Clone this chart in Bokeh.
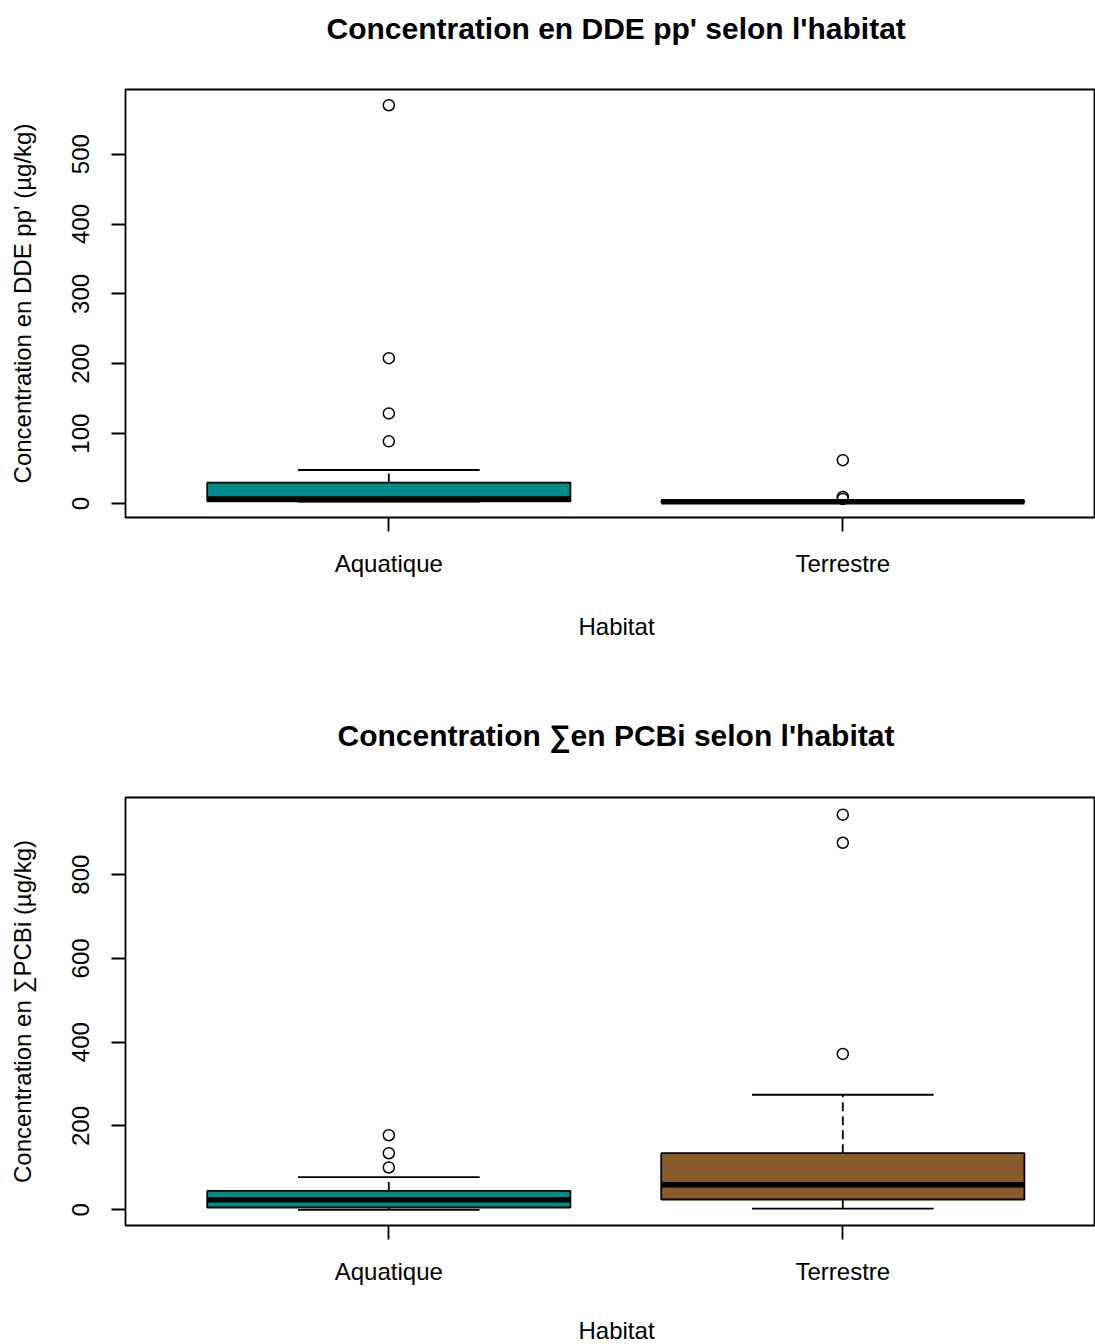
from bokeh.plotting import figure
from bokeh.layouts import column
from bokeh.models import FixedTicker, Range1d, Title
from bokeh.embed import file_html
from bokeh.resources import INLINE

FONT = "Liberation Sans"

categories = ["Aquatique", "Terrestre"]
colors = ["#008B8B", "#8B5A2B"]

# DDE pp' (ug/kg) boxplot statistics per habitat
dde_q1 = [3.0, 2.2]
dde_median = [6.5, 2.6]
dde_q3 = [30.0, 3.2]
dde_lower = [2.6, 1.2]
dde_upper = [48.0, 4.5]
dde_outliers = [[89, 129, 208, 570], [62, 9.5, 6.5]]

# Sum PCBi (ug/kg) boxplot statistics per habitat
pcb_q1 = [5.5, 24.5]
pcb_median = [24.0, 59.5]
pcb_q3 = [45.0, 135.0]
pcb_lower = [0.0, 3.0]
pcb_upper = [78.0, 274.5]
pcb_outliers = [[101, 135, 178], [372, 876, 943]]

dde_ticks = [0, 100, 200, 300, 400, 500]
pcb_ticks = [0, 200, 400, 600, 800]


def spacer(gap):
    return Title(text=" ", text_font_size="1px", standoff=gap)


def panel(title, title_offset, top_gap, bottom_gap, ylabel, yticks, yr,
          q1, med, q3, lo, hi, outliers, height, border_top, border_bottom):
    p = figure(width=1095, height=height,
               x_range=Range1d(0.42, 2.5566), y_range=Range1d(*yr),
               output_backend="svg", toolbar_location=None,
               min_border_left=125, min_border_right=0,
               min_border_top=border_top, min_border_bottom=border_bottom)
    xs = [i + 1 for i in range(len(categories))]
    lw = 1.8
    # whiskers (dashed)
    p.segment(x0=xs, y0=q3, x1=xs, y1=hi, line_color="black", line_width=lw, line_dash="9 5")
    p.segment(x0=xs, y0=q1, x1=xs, y1=lo, line_color="black", line_width=lw, line_dash="9 5")
    # caps
    p.segment(x0=[x - 0.2 for x in xs], y0=hi, x1=[x + 0.2 for x in xs], y1=hi,
              line_color="black", line_width=lw)
    p.segment(x0=[x - 0.2 for x in xs], y0=lo, x1=[x + 0.2 for x in xs], y1=lo,
              line_color="black", line_width=lw)
    # boxes
    p.quad(left=[x - 0.4 for x in xs], right=[x + 0.4 for x in xs], bottom=q1, top=q3,
           fill_color=colors, line_color="black", line_width=lw)
    # medians
    p.segment(x0=[x - 0.4 for x in xs], y0=med, x1=[x + 0.4 for x in xs], y1=med,
              line_color="black", line_width=5.5)
    # outliers
    ox, oy = [], []
    for i, vals in enumerate(outliers):
        for v in vals:
            ox.append(xs[i])
            oy.append(v)
    p.scatter(ox, oy, marker="circle", size=11, fill_color=None,
              line_color="black", line_width=1.5)

    # main title, centred over the plotting region like R
    p.add_layout(spacer(top_gap), "above")
    p.add_layout(Title(text=title, text_font=FONT, text_font_size="30px",
                       text_font_style="bold", text_color="black",
                       align="left", offset=title_offset, standoff=0), "above")

    # x axis title
    p.add_layout(spacer(bottom_gap), "below")
    p.add_layout(Title(text="Habitat", text_font=FONT, text_font_size="24px",
                       text_font_style="normal", text_color="black",
                       align="left", offset=453, standoff=0), "below")

    p.grid.visible = False
    p.outline_line_color = "black"
    p.outline_line_width = 1.8
    p.outline_line_alpha = 1.0

    for ax in (p.xaxis[0], p.yaxis[0]):
        ax.axis_line_color = None
        ax.minor_tick_line_color = None
        ax.major_tick_in = 0
        ax.major_tick_out = 14
        ax.major_tick_line_width = 1.8
        ax.major_tick_line_color = "black"
        ax.major_label_text_font = FONT
        ax.major_label_text_font_size = "24px"
        ax.major_label_text_color = "black"
        ax.axis_label_text_font = FONT
        ax.axis_label_text_font_size = "24px"
        ax.axis_label_text_font_style = "normal"
        ax.axis_label_text_color = "black"

    p.xaxis.ticker = FixedTicker(ticks=xs)
    p.xaxis.major_label_overrides = {x: c for x, c in zip(xs, categories)}
    p.xaxis.major_label_standoff = 18

    p.yaxis.ticker = FixedTicker(ticks=yticks)
    p.yaxis.major_label_orientation = "vertical"
    p.yaxis.major_label_standoff = 22
    p.yaxis.axis_label = ylabel
    p.yaxis.axis_label_standoff = 34
    return p


p1 = panel("Concentration en DDE pp' selon l'habitat", 201, 42, 28,
           "Concentration en DDE pp' (\u00b5g/kg)",
           dde_ticks, (-20.0, 592.5),
           dde_q1, dde_median, dde_q3, dde_lower, dde_upper, dde_outliers,
           707, 89, 190)
p2 = panel("Concentration \u2211en PCBi selon l'habitat", 212, 43, 24,
           "Concentration en \u2211PCBi (\u00b5g/kg)",
           pcb_ticks, (-37.5, 984.0),
           pcb_q1, pcb_median, pcb_q3, pcb_lower, pcb_upper, pcb_outliers,
           637, 90, 119)

layout = column(p1, p2, spacing=0)
open("out.html", "w").write(file_html(layout, INLINE))
